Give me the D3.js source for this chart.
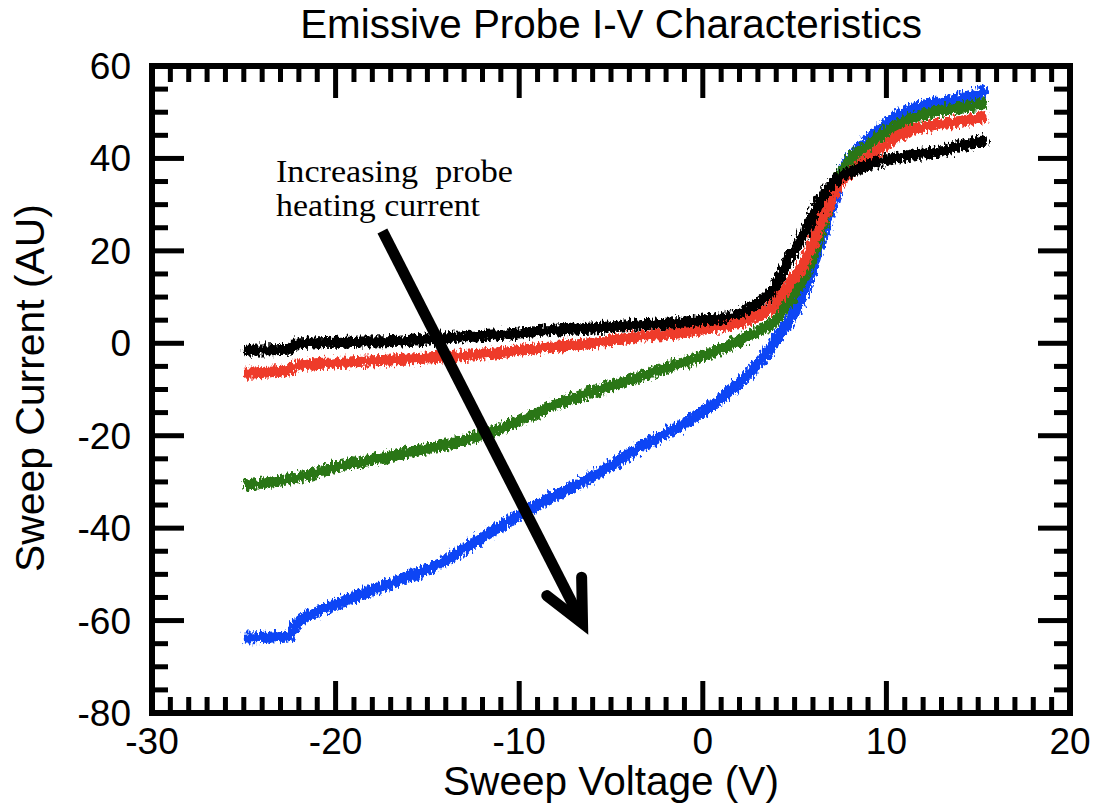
<!DOCTYPE html>
<html><head><meta charset="utf-8">
<script src="https://cdn.jsdelivr.net/npm/d3@7"></script>
<style>body{margin:0;background:#fff}svg{display:block}</style>
</head><body>
<svg id="c" width="1096" height="807"></svg>
<script>
const title = "Emissive Probe I-V Characteristics";
const xTitle = "Sweep Voltage (V)";
const yTitle = "Sweep Current (AU)";
const annotationLines = ["Increasing  probe", "heating current"];
const xTicks = [-30, -20, -10, 0, 10, 20];
const yTicks = [-80, -60, -40, -20, 0, 20, 40, 60];

const blueV = [-25, -22.5, -22.2, -20, -17, -14.3, -11.6, -8.8, -6.1, -3.4, -0.7, 1.1, 3, 4.2, 4.75, 5.7, 6.4, 7.1, 7.6, 8.5, 9.3, 10.7, 12, 14, 15.5];
const blueI = [-63.8, -63.3, -61, -56.5, -52, -47.6, -41, -34.5, -29, -22.5, -16.6, -11.6, -4.5, 2, 5, 13, 22, 30, 37, 42, 45, 49.5, 51.5, 53, 54.5];
const greenV = [-25, -22, -20, -18, -16, -14, -12, -10, -8, -6, -4, -2, 0, 1, 2, 3, 3.8, 4.75, 5.7, 6.4, 7.1, 7.9, 9, 10.7, 12, 14, 15.5];
const greenI = [-30.7, -29, -26.8, -25.2, -23.6, -22, -19.8, -16.8, -13.3, -10.5, -8, -5.3, -2.8, -1.2, 0.7, 2.5, 4.4, 9.4, 15.8, 24, 32.5, 39, 43, 47.5, 49.5, 51, 52];
const redV = [-25, -22.5, -22.2, -20, -17, -14.3, -11, -8.8, -6, -3.4, -1, 0, 1, 2, 3, 3.8, 4.75, 5.7, 6.5, 7.5, 8.5, 9.3, 10, 10.7, 12, 14, 15.5];
const redI = [-6.5, -5.8, -4.8, -4.2, -3.6, -3, -2, -1, 0, 1.4, 2.4, 3, 3.6, 4.4, 6, 8, 13, 18.7, 26.7, 34.7, 38.5, 41, 43, 45, 46.8, 48, 49];
const blackV = [-25, -22.5, -22.2, -20, -17, -14, -11, -8.8, -6, -3.4, -1, 0, 1, 2, 3, 3.8, 4.75, 5.7, 6.4, 7.5, 8.5, 9.3, 10.7, 12.9, 14, 15.5];
const blackI = [-1.5, -1.3, -0.2, 0.2, 0.4, 1.2, 1.9, 2.6, 3.3, 4, 4.6, 5, 5.5, 6.5, 8.7, 11.5, 18.7, 25, 31, 36, 37.8, 39, 40.3, 41.5, 42.7, 44];

const seriesNames = ["blue", "green", "red", "black"];
const seriesColors = ["#0a44f5", "#2a7612", "#ee3a2c", "#000000"];

// annotation arrow in data units (V, I)
const arrowStart = [-17.45, 24.3];
const arrowTip = [-6.55, -60.6];
const arrowHeadA = [-8.5, -54.6];
const arrowHeadB = [-6.6, -50.6];

const svg = d3.select("#c");
const L = 152, R = 1070, T = 66, B = 713;
const x = d3.scaleLinear().domain([-30, 20]).range([L, R]);
const y = d3.scaleLinear().domain([-80, 60]).range([B, T]);

// noise filter for ragged traces
const defs = svg.append("defs");
const f = defs.append("filter").attr("id", "rough").attr("filterUnits", "userSpaceOnUse")
  .attr("x", 0).attr("y", 0).attr("width", 1096).attr("height", 807);
f.append("feTurbulence").attr("type", "fractalNoise").attr("baseFrequency", "0.45 0.18").attr("numOctaves", 2).attr("seed", 3).attr("result", "n");
f.append("feDisplacementMap").attr("in", "SourceGraphic").attr("in2", "n").attr("scale", 11).attr("xChannelSelector", "R").attr("yChannelSelector", "G");

const line = d3.line().x(d => x(d[0])).y(d => y(d[1])).curve(d3.curveMonotoneX);
const seriesData = [
  d3.zip(blueV, blueI), d3.zip(greenV, greenI), d3.zip(redV, redI), d3.zip(blackV, blackI)
];
const g = svg.append("g").attr("filter", "url(#rough)");
seriesData.forEach((d, i) => {
  g.append("path").datum(d).attr("d", line).attr("fill", "none")
    .attr("stroke", seriesColors[i]).attr("stroke-width", 11).attr("stroke-linejoin", "round").attr("stroke-linecap", "butt");
});

// axes: ticks inward on all four sides
const minorX = d3.range(-30, 20.001, 1);
const minorY = d3.range(-80, 60.001, 5);
const ax = svg.append("g").attr("stroke", "#000").attr("stroke-width", 5);
const isMajorX = v => Math.abs(v % 10) < 1e-6;
const isMajorY = v => Math.abs(v % 20) < 1e-6;
minorX.forEach(v => {
  const len = isMajorX(v) ? 32 : 16;
  ax.append("line").attr("x1", x(v)).attr("x2", x(v)).attr("y1", B).attr("y2", B - len);
  ax.append("line").attr("x1", x(v)).attr("x2", x(v)).attr("y1", T).attr("y2", T + len);
});
minorY.forEach(v => {
  const len = isMajorY(v) ? 32 : 16;
  ax.append("line").attr("y1", y(v)).attr("y2", y(v)).attr("x1", L).attr("x2", L + len);
  ax.append("line").attr("y1", y(v)).attr("y2", y(v)).attr("x1", R).attr("x2", R - len);
});
svg.append("rect").attr("x", L).attr("y", T).attr("width", R - L).attr("height", B - T)
  .attr("fill", "none").attr("stroke", "#000").attr("stroke-width", 6);

const sans = "'Liberation Sans', Arial, Helvetica, sans-serif";
const lab = svg.append("g").attr("font-family", sans).attr("font-size", 37).attr("fill", "#000");
xTicks.forEach(v => lab.append("text").attr("x", x(v)).attr("y", 754).attr("text-anchor", "middle").text(v));
yTicks.forEach(v => lab.append("text").attr("x", 131).attr("y", y(v) + 13).attr("text-anchor", "end").text(v));

function fit(sel, w) {
  const cur = +sel.attr("font-size");
  const len = sel.node().getComputedTextLength();
  sel.attr("font-size", cur * w / len);
}
const t = svg.append("text").attr("x", 611).attr("y", 38).attr("text-anchor", "middle")
  .attr("font-family", sans).attr("font-size", 30).text(title);
fit(t, 622);
const xt = svg.append("text").attr("x", 611).attr("y", 795).attr("text-anchor", "middle")
  .attr("font-family", sans).attr("font-size", 34).text(xTitle);
fit(xt, 336);
const yt = svg.append("text").attr("transform", "translate(44,388) rotate(-90)").attr("text-anchor", "middle")
  .attr("font-family", sans).attr("font-size", 34).text(yTitle);
fit(yt, 368);

const serif = "'Liberation Serif', 'DejaVu Serif', serif";
const a1 = svg.append("text").attr("x", 276).attr("y", 182).attr("font-family", serif).attr("font-size", 32)
  .style("white-space", "pre").attr("textLength", 237).attr("lengthAdjust", "spacingAndGlyphs").text(annotationLines[0]);
const a2 = svg.append("text").attr("x", 276).attr("y", 216).attr("font-family", serif).attr("font-size", 32)
  .style("white-space", "pre").attr("textLength", 204).attr("lengthAdjust", "spacingAndGlyphs").text(annotationLines[1]);

const arr = svg.append("g").attr("stroke", "#000").attr("fill", "none");
arr.append("line").attr("x1", x(arrowStart[0])).attr("y1", y(arrowStart[1]))
  .attr("x2", x(arrowTip[0])).attr("y2", y(arrowTip[1])).attr("stroke-width", 11);
arr.append("path").attr("d", d3.line()([[x(arrowHeadA[0]), y(arrowHeadA[1])], [x(arrowTip[0]), y(arrowTip[1])], [x(arrowHeadB[0]), y(arrowHeadB[1])]]))
  .attr("stroke-width", 11).attr("stroke-linecap", "round").attr("stroke-linejoin", "miter");
</script>
</body></html>
